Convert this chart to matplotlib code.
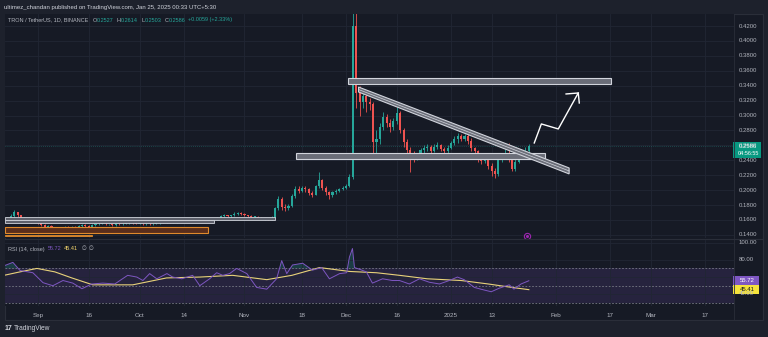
import matplotlib
matplotlib.use("Agg")
import matplotlib.pyplot as plt
from matplotlib.patches import Rectangle, Polygon
import numpy as np

W, H = 768, 337

# ---- data (day 0 = 1 Sep 2024, daily TRX/USDT candles) ----
first_day = -9
first_open = 0.160
closes = [.162, .165, .170, .166, .161, .162, .160, .158, .159,
          .156, .153, .151, .152, .150, .149, .148, .150, .151, .150, .151, .150, .152, .153, .152,
          .151, .153, .154, .155, .155, .154, .154, .153, .155, .154, .155, .156, .157, .156, .155,
          .155, .154, .155, .154, .155, .156, .157, .157, .158, .157, .157, .158, .158, .159, .158,
          .159, .160, .159, .160, .161, .161, .160, .161, .163, .165, .166, .165, .166, .168, .169,
          .168, .166, .165, .164, .164, .163, .162, .162, .161, .163,
          .176, .188, .178, .176, .179, .192, .202, .199, .203, .201, .196, .194, .205, .213, .203,
          .197, .193, .197, .199, .201, .203, .205, .218,
          .420, .330, .318, .326, .318, .316, .265, .268, .285, .298, .290, .284, .292, .304, .280,
          .264, .254, .246, .244, .245, .254, .256, .258, .253, .258, .260, .255, .252, .257, .263,
          .268, .272, .269, .272, .266, .256, .252, .242, .239, .242, .232, .225, .221, .240, .246,
          .250, .241, .228, .238, .245, .249, .2527, .2586]
highs = [.164, .168, .174, .171, .167, .164, .163, .161, .161,
         .160, .157, .154, .153, .153, .151, .150, .151, .152, .152, .152, .152, .153, .154, .154,
         .153, .154, .155, .156, .157, .156, .155, .155, .156, .156, .156, .157, .158, .158, .157,
         .156, .156, .156, .156, .156, .157, .158, .158, .159, .159, .158, .159, .159, .160, .160,
         .160, .161, .161, .161, .162, .162, .162, .162, .164, .166, .168, .167, .167, .170, .171,
         .170, .169, .167, .166, .165, .165, .164, .163, .163, .165,
         .178, .192, .191, .181, .182, .195, .206, .205, .206, .205, .203, .199, .207, .224, .215,
         .205, .199, .199, .201, .203, .205, .208, .222,
         .449, .440, .340, .333, .330, .324, .318, .280, .290, .305, .302, .295, .297, .312, .306,
         .283, .268, .258, .252, .250, .257, .260, .262, .260, .262, .264, .262, .258, .260, .266,
         .273, .276, .275, .275, .276, .270, .258, .254, .246, .245, .244, .236, .230, .243, .250,
         .255, .263, .246, .242, .249, .253, .258, .2614]
lows = [.158, .160, .164, .164, .159, .159, .158, .156, .157,
        .155, .152, .150, .150, .149, .147, .147, .147, .149, .149, .149, .149, .149, .151, .151,
        .150, .150, .152, .153, .154, .153, .153, .152, .152, .153, .153, .154, .155, .155, .154,
        .154, .153, .153, .153, .153, .154, .155, .156, .156, .156, .156, .156, .157, .157, .157,
        .157, .158, .158, .158, .159, .160, .159, .159, .160, .162, .164, .164, .164, .165, .167,
        .166, .165, .164, .163, .162, .162, .161, .160, .160, .160,
        .162, .174, .174, .172, .174, .178, .190, .196, .197, .198, .194, .191, .193, .203, .200,
        .194, .188, .191, .195, .197, .200, .202, .204,
        .215, .310, .300, .310, .305, .308, .243, .250, .262, .280, .285, .278, .280, .288, .276,
        .258, .248, .224, .238, .240, .242, .250, .253, .249, .251, .255, .252, .248, .250, .255,
        .260, .263, .266, .266, .262, .252, .245, .238, .235, .237, .228, .219, .216, .219, .238,
        .243, .238, .225, .226, .236, .243, .247, .2503]

rsi_days = [-9.7, -7.4, -5.3, -1.5, 1.5, 4.4, 7.4, 10.3, 13, 15.9, 19.2, 22.7, 26.5, 29.2, 31, 33,
            35.1, 38.1, 39.8, 42.5, 45.7, 47.8, 50.7, 52.8, 54.6, 56.6, 58.7, 61.7, 64.6, 67.6,
            70.5, 72, 73.5, 75.2, 78.2, 81.1, 83.8, 86.1, 89.1, 91.2, 92, 92.9, 93.5, 95, 97,
            98.8, 101.8, 104.7, 106.8, 109.7, 112.7, 115.6, 118.6, 121.5, 123.9, 125.9, 128.9,
            131.8, 133.9, 136.2, 139.2, 140.6, 142.7, 145]
rsi_vals = [73.5, 77, 67.6, 65, 53.5, 50, 56, 53, 46.5, 52, 53, 52, 62, 60, 56, 64,
            58, 64, 60, 58, 62, 50, 58, 65, 62, 64, 70, 64, 48, 46,
            58, 79, 64, 74, 76, 68, 71, 58, 64, 65, 83, 93, 71, 69, 66,
            53, 58, 56, 56, 52, 58, 54, 52, 56, 60, 57, 48,
            45, 43, 47, 51, 46, 52, 55.72]
ma_days = [-11.2, -5.3, -0.3, 5, 10, 16.2, 28, 38, 47.8, 57.5, 67.6, 75, 83.2, 92, 100, 106.8,
           115, 125, 133, 140, 145]
ma_vals = [61, 66, 70, 66, 59, 51, 51, 59, 60, 62, 57, 62, 71, 66.5, 65, 62,
           58, 56, 52, 48, 45.41]

price_ticks = [0.14, 0.16, 0.18, 0.20, 0.22, 0.24, 0.26, 0.28, 0.30, 0.32, 0.34, 0.36, 0.38, 0.40, 0.42]
time_ticks = [0, 15, 30, 43, 61, 78, 91, 106, 122, 134, 153, 169, 181, 197]
time_labels = ["Sep", "16", "Oct", "14", "Nov", "18", "Dec", "16", "2025", "13", "Feb", "17", "Mar", "17"]

# drawings on the chart (day, price)
resist_box = (91.7, 169.3, 0.3423, 0.3503)
support_box = (76.1, 149.9, 0.2417, 0.2498)
channel = [(94.7, 0.3382), (156.9, 0.2297), (156.9, 0.2217), (94.7, 0.3315)]
white_boxes = [(-9.7, 69.9, 0.1606, 0.1646), (-9.7, 51.9, 0.1553, 0.1593)]
orange_boxes = [(-9.7, 50.1, 0.1425, 0.1506), (-9.7, 15.9, 0.1382, 0.1393)]
arrow_days = [146.6, 148.7, 153.7, 159.6]
arrow_prices = [0.2632, 0.2887, 0.2820, 0.3302]
head_days = [156.0, 159.6, 159.9]
head_prices = [0.3289, 0.3302, 0.3168]

BG = "#161a25"
OUTER = "#1d212c"
GRID = "#212634"
TXT = "#b2b5be"
UP = "#26a69a"
DN = "#ef5350"

plt.rcParams["font.family"] = ["Liberation Sans", "DejaVu Sans"]


def fig_box(x0, y0, x1, y1):
    return [x0 / W, 1 - y1 / H, (x1 - x0) / W, (y1 - y0) / H]


fig = plt.figure(figsize=(W / 100, H / 100), dpi=100, facecolor=OUTER)

# chart frame (behind the axes)
fig.add_artist(Rectangle((5 / W, 1 - 320 / H), 758 / W, 306 / H, transform=fig.transFigure,
                         facecolor=BG, edgecolor="#2a2e39", lw=0.8, zorder=-10))

ax = fig.add_axes(fig_box(5, 14, 734, 238))
rx = fig.add_axes(fig_box(5, 240, 734, 306), sharex=ax)
for a in (ax, rx):
    a.set_facecolor(BG)
    for s in a.spines.values():
        s.set_visible(False)
    a.set_xticks(time_ticks)
    a.grid(True, color=GRID, lw=0.6)
    a.tick_params(length=0, colors=TXT, labelsize=4.3)
    a.yaxis.tick_right()

ax.set_xlim(-9.73, 205.6)
ax.set_ylim(0.1358, 0.4361)
ax.set_yticks(price_ticks)
ax.set_yticklabels([])
ax.tick_params(axis="x", labelbottom=False)

# candles
opens = [first_open] + closes[:-1]
days = np.arange(first_day, first_day + len(closes))
o = np.array(opens)
c = np.array(closes)
cols = np.where(c >= o, UP, DN)
ax.vlines(days, lows, highs, colors=cols, lw=0.6, zorder=3)
body = np.maximum(np.abs(c - o), 0.0012)
ax.bar(days, body, bottom=np.minimum(o, c), width=0.62, color=cols, zorder=4, lw=0)

# last price line
ax.axhline(closes[-1], color=UP, lw=0.5, ls=(0, (1, 2)), alpha=0.6, zorder=2)


def hbox(a, box, ec, fc, lw=0.8):
    x0, x1, y0, y1 = box
    a.add_patch(Rectangle((x0, y0), x1 - x0, y1 - y0, facecolor=fc, edgecolor=ec, lw=lw, zorder=5))


# drawings
hbox(ax, resist_box, "#d1d4dc", "#6a6d78")
hbox(ax, support_box, "#d1d4dc", "#6a6d78")
for b in white_boxes:
    hbox(ax, b, "#d1d4dc", "#5d606b", lw=0.6)
hbox(ax, orange_boxes[0], "#e08a2c", "#5a2e1c")
hbox(ax, orange_boxes[1], "#e08a2c", "#e08a2c", lw=0.6)
ax.add_patch(Polygon(channel, closed=True, facecolor="#6a6d78", edgecolor="#d1d4dc", lw=0.8, zorder=5))
mid_d = [(channel[0][0] + channel[3][0]) / 2, (channel[1][0] + channel[2][0]) / 2]
mid_p = [(channel[0][1] + channel[3][1]) / 2, (channel[1][1] + channel[2][1]) / 2]
ax.plot(mid_d, mid_p, color="#d1d4dc", lw=0.5, zorder=6)
ax.plot(arrow_days, arrow_prices, color="white", lw=1.0, zorder=6)
ax.plot(head_days, head_prices, color="white", lw=1.0, zorder=6)
ax.plot([144.5], [0.1385], marker="o", ms=4.5, mfc="none", mec="#9c27b0", mew=0.8, zorder=6)
ax.plot([144.5], [0.1385], marker="o", ms=1.2, color="#9c27b0", zorder=6)

# RSI pane
rx.set_ylim(26.5, 102.9)
rx.set_yticks([100, 80, 60, 40])
rx.set_yticklabels([])
rx.axhspan(30, 70, color="#7e57c2", alpha=0.16, lw=0)
for lvl in (70, 50, 30):
    rx.axhline(lvl, color="#787b86", lw=0.6, ls=(0, (2, 2)))
rv = np.array(rsi_vals)
rx.fill_between(rsi_days, 70, rv, where=rv > 70, interpolate=True, color=UP, alpha=0.25, lw=0)
rx.plot(ma_days, ma_vals, color="#e8d27a", lw=0.8, zorder=3)
rx.plot(rsi_days, rsi_vals, color="#7e57c2", lw=0.7, zorder=4)
rx.set_xticklabels(time_labels)
rx.tick_params(axis="x", pad=5, labelsize=4.5)

# price scale labels
for p in price_ticks:
    fig.text(739 / W, 1 - (26 + (0.42 - p) * 746) / H, f"{p:.4f}", color=TXT, fontsize=4.3,
             va="center", ha="left")
for v, yy in ((100, 242.5), (80, 259.5), (40, 293.5)):
    fig.text(739 / W, 1 - yy / H, f"{v:.2f}", color=TXT, fontsize=4.3, va="center", ha="left")

# last price / RSI tags
fig.add_artist(Rectangle((733 / W, 1 - 158 / H), 28 / W, 16 / H, transform=fig.transFigure,
                         facecolor="#089981", edgecolor="none"))
fig.text(739 / W, 1 - 146 / H, "0.2586", color="white", fontsize=4.3, va="center")
fig.text(738 / W, 1 - 153.5 / H, "04:56:55", color="white", fontsize=4.0, va="center")
fig.add_artist(Rectangle((733 / W, 1 - 285 / H), 26 / W, 9 / H, transform=fig.transFigure,
                         facecolor="#7e57c2", edgecolor="none"))
fig.text(740 / W, 1 - 280.5 / H, "55.72", color="white", fontsize=4.3, va="center")
fig.add_artist(Rectangle((733 / W, 1 - 294 / H), 26 / W, 9 / H, transform=fig.transFigure,
                         facecolor="#f5e33b", edgecolor="none"))
fig.text(740 / W, 1 - 289.5 / H, "45.41", color="#131722", fontsize=4.3, va="center")

# separators
fig.add_artist(plt.Line2D([734 / W, 734 / W], [1 - 320 / H, 1 - 14 / H], transform=fig.transFigure,
                          color="#2a2e39", lw=0.6))
fig.add_artist(plt.Line2D([5 / W, 763 / W], [1 - 239 / H, 1 - 239 / H], transform=fig.transFigure,
                          color="#2a2e39", lw=0.8))

# header / legends, laid out left to right
renderer = fig.canvas.get_renderer()


def flow(x, y, parts, size):
    for s, col, gap in parts:
        t = fig.text(x / W, 1 - y / H, s, color=col, fontsize=size, va="center")
        x = t.get_window_extent(renderer).x1 + gap


fig.text(4 / W, 1 - 7 / H, "ultimez_chandan published on TradingView.com, Jan 25, 2025 00:33 UTC+5:30",
         color="#d1d4dc", fontsize=4.3, va="center")
flow(8, 20, [("TRON / TetherUS, 1D, BINANCE", TXT, 4), ("O", TXT, 0.3), ("0.2527", UP, 3),
             ("H", TXT, 0.3), ("0.2614", UP, 3), ("L", TXT, 0.3), ("0.2503", UP, 3),
             ("C", TXT, 0.3), ("0.2586", UP, 3), ("+0.0059 (+2.33%)", UP, 0)], 4.0)
flow(8, 249, [("RSI (14, close)", TXT, 3), ("55.72", "#7e57c2", 3), ("45.41", "#f5d76e", 3),
              ("\u2205", TXT, 2), ("\u2205", TXT, 0)], 4.0)

fig.text(5 / W, 1 - 329 / H, "17", color="#d1d4dc", fontsize=5, weight="bold", va="center")
fig.text(14 / W, 1 - 329 / H, "TradingView", color="#d1d4dc", fontsize=4.8, va="center")

fig.savefig("out.png", dpi=100, facecolor=OUTER)
